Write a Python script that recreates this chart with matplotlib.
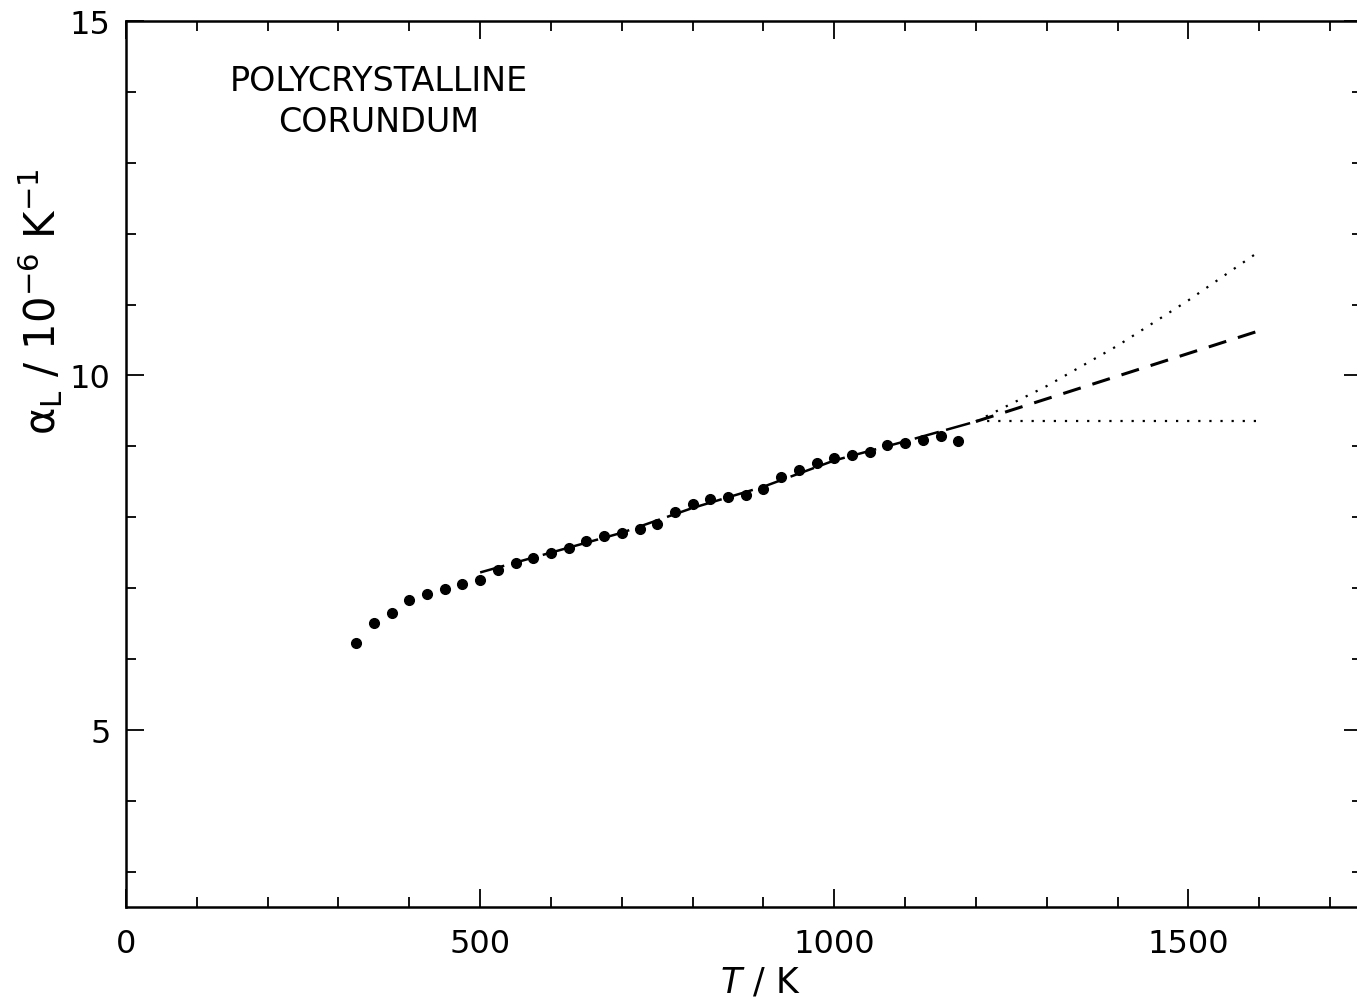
import matplotlib
matplotlib.use("Agg")
import matplotlib.pyplot as plt
from matplotlib.ticker import MultipleLocator

plt.rcParams['mathtext.default'] = 'regular'

# Measured data
T_data = [325, 350, 375, 400, 425, 450, 475, 500, 525, 550, 575, 600, 625, 650,
          675, 700, 725, 750, 775, 800, 825, 850, 875, 900, 925, 950, 975, 1000,
          1025, 1050, 1075, 1100, 1125, 1150, 1175]
alpha_data = [6.22, 6.50, 6.65, 6.83, 6.91, 6.98, 7.05, 7.11, 7.26, 7.35, 7.42,
              7.49, 7.57, 7.66, 7.73, 7.77, 7.83, 7.91, 8.07, 8.18, 8.26, 8.29,
              8.31, 8.40, 8.56, 8.67, 8.76, 8.83, 8.87, 8.92, 9.02, 9.05, 9.09,
              9.14, 9.08]

# Fitted curve
T_fit = [500, 600, 700, 800, 900, 1000, 1100, 1150, 1200]
alpha_fit = [7.22, 7.50, 7.78, 8.13, 8.43, 8.80, 9.07, 9.21, 9.35]

# Extrapolations
T_ext = [1200, 1300, 1400, 1500, 1600]
alpha_ext_high = [9.35, 9.85, 10.42, 11.06, 11.75]
alpha_ext_mid = [9.35, 9.67, 9.99, 10.31, 10.63]
alpha_ext_low = [9.35, 9.35, 9.35, 9.35, 9.35]

fig = plt.figure(figsize=(13.57, 10.04), dpi=100)
ax = fig.add_axes([126/1357, 96/1004, 1236/1357, 886/1004])

ax.plot(T_fit, alpha_fit, color='black', lw=1.8, dashes=(10, 3))
ax.plot(T_ext, alpha_ext_high, color='black', lw=1.6, linestyle=(0, (1, 4)))
ax.plot(T_ext, alpha_ext_mid, color='black', lw=2.2, dashes=(6, 4))
ax.plot(T_ext, alpha_ext_low, color='black', lw=1.6, linestyle=(0, (1, 4)))
ax.plot(T_data, alpha_data, 'o', color='black', markersize=7, zorder=3)

ax.set_xlim(0, 1745)
ax.set_ylim(2.5, 15)
ax.xaxis.set_major_locator(MultipleLocator(500))
ax.xaxis.set_minor_locator(MultipleLocator(100))
ax.yaxis.set_major_locator(MultipleLocator(5))
ax.yaxis.set_minor_locator(MultipleLocator(1))
ax.tick_params(which='both', direction='in', top=True, right=True, width=1.3)
ax.tick_params(which='major', length=13, labelsize=23)
ax.tick_params(axis='x', which='major', pad=15)
ax.tick_params(axis='y', which='major', pad=11)
ax.tick_params(which='minor', length=7)
for s in ax.spines.values():
    s.set_linewidth(1.8)
ax.spines['right'].set_visible(False)

fig.text(379/1357, 1 - 102/1004, 'POLYCRYSTALLINE\nCORUNDUM', ha='center',
         va='center', fontsize=24, linespacing=1.3, fontfamily='DejaVu Sans')

fig.text(40/1357, 1 - 302/1004, r'$\alpha_L$ / 10$^{-6}$ K$^{-1}$', rotation=90,
         ha='center', va='center', fontsize=30)
fig.text(760/1357, 1 - 983/1004, r'$\mathit{T}$ / K', ha='center', va='center',
         fontsize=25)

fig.savefig('out.png', dpi=100)
